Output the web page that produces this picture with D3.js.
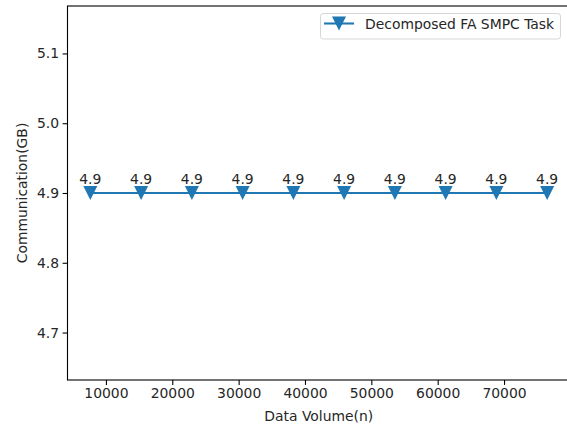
<!DOCTYPE html>
<html><head><meta charset="utf-8">
<script src="https://cdn.jsdelivr.net/npm/d3@7"></script>
<style>body{margin:0;background:#fff}svg{display:block}text{font-family:"DejaVu Sans",sans-serif;fill:#262626}</style>
</head><body>
<script>
const xValues = [7650, 15300, 22950, 30600, 38250, 45900, 53550, 61200, 68850, 76500];
const commValues = [4.9, 4.9, 4.9, 4.9, 4.9, 4.9, 4.9, 4.9, 4.9, 4.9];
const xTicks = [10000, 20000, 30000, 40000, 50000, 60000, 70000];
const yTicks = [4.7, 4.8, 4.9, 5.0, 5.1];
const seriesName = "Decomposed FA SMPC Task";
const xLabel = "Data Volume(n)";
const yLabel = "Communication(GB)";

const W = 567, H = 427;
const L = 67.5, R = 570, T = 6, B = 380;
const color = "#1f77b4";
const fs = 13.9;

const svg = d3.select("body").append("svg").attr("width", W).attr("height", H);

const x = d3.scale ? null : null;
const xs = d3.scaleLinear().domain([4207.5, 79942.5]).range([L, R]);
const ys = d3.scaleLinear().domain([4.632, 5.168]).range([B, T]);

// axes
const xAxis = svg.append("g").attr("transform", `translate(0,${B})`)
  .call(d3.axisBottom(xs).tickValues(xTicks).tickFormat(d3.format("d")).tickSize(4.9).tickPadding(3.5));
const yAxis = svg.append("g").attr("transform", `translate(${L},0)`)
  .call(d3.axisLeft(ys).tickValues(yTicks).tickFormat(d3.format(".1f")).tickSize(4.9).tickPadding(3.5));
[xAxis, yAxis].forEach(g => {
  g.select(".domain").remove();
  g.selectAll("line").attr("stroke", "#000").attr("stroke-width", 1.1);
  g.selectAll("text").attr("font-size", fs).attr("fill", "#262626").style("font-family", "DejaVu Sans");
});

// frame
svg.append("rect").attr("x", L).attr("y", T).attr("width", R - L).attr("height", B - T)
  .attr("fill", "none").attr("stroke", "#000").attr("stroke-width", 1.1);

// line
const data = xValues.map((v, i) => ({x: v, y: commValues[i]}));
svg.append("path").datum(data)
  .attr("d", d3.line().x(d => xs(d.x)).y(d => ys(d.y)))
  .attr("fill", "none").attr("stroke", color).attr("stroke-width", 2.08);

const tri = d3.symbol().type(d3.symbolTriangle).size(80);
svg.selectAll(".mk").data(data).enter().append("path")
  .attr("d", "M-7,-7L7,-7L0,7Z")
  .attr("transform", d => `translate(${xs(d.x)},${ys(d.y)})`)
  .attr("fill", color);

svg.selectAll(".lab").data(data).enter().append("text")
  .attr("x", d => xs(d.x)).attr("y", d => ys(d.y) - 9)
  .attr("text-anchor", "middle").attr("font-size", fs).text(d => d.y.toFixed(1));

// axis labels
svg.append("text").attr("x", (L + R) / 2).attr("y", 421).attr("text-anchor", "middle")
  .attr("font-size", fs).text(xLabel);
svg.append("text").attr("transform", `translate(27,${(T + B) / 2}) rotate(-90)`)
  .attr("text-anchor", "middle").attr("font-size", fs).text(yLabel);

// legend
const lg = svg.append("g");
lg.append("rect").attr("x", 320.5).attr("y", 13.5).attr("width", 240).attr("height", 25.5).attr("rx", 2.8)
  .attr("fill", "#fff").attr("fill-opacity", 0.8).attr("stroke", "#d6d6d6").attr("stroke-width", 1);
lg.append("line").attr("x1", 324).attr("x2", 354).attr("y1", 23.5).attr("y2", 23.5)
  .attr("stroke", color).attr("stroke-width", 2.08);
lg.append("path").attr("d", "M-7,-7L7,-7L0,7Z").attr("transform", "translate(339,23.5)").attr("fill", color);
lg.append("text").attr("x", 365).attr("y", 28.5).attr("font-size", fs).text(seriesName);
</script>
</body></html>
